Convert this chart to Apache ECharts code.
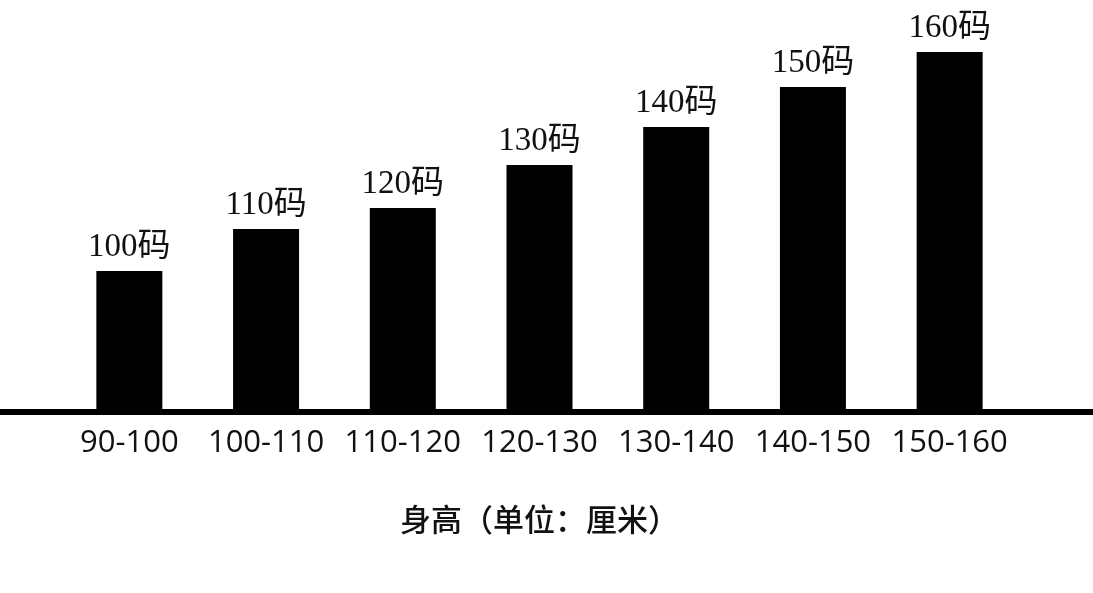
<!DOCTYPE html>
<html>
<head>
<meta charset="utf-8">
<script src="https://cdn.jsdelivr.net/npm/echarts@6/dist/echarts.min.js"></script>
<style>html,body{margin:0;padding:0;background:#fff}#c{width:1093px;height:593px}</style>
</head>
<body>
<div id="c"></div>
<script>
const categories = ["90-100","100-110","110-120","120-130","130-140","140-150","150-160"];
const sizeLabels = ["100码","110码","120码","130码","140码","150码","160码"];
const barValues = [141, 183, 204, 247, 285, 325, 360];
const axisName = "身高（单位：厘米）";

const chart = echarts.init(document.getElementById('c'), null, {renderer:'canvas'});
chart.setOption({
  backgroundColor: '#ffffff',
  animation: false,
  grid: [
    {left: 61, right: 75, top: 12, bottom: 181, containLabel: false},
    {left: 0, right: 0, top: 12, bottom: 181, containLabel: false}
  ],
  xAxis: [
    {
      type: 'category', gridIndex: 0, data: categories,
      axisLine: {show: false}, axisTick: {show: false},
      axisLabel: {color: '#111', fontSize: 31, fontFamily: 'Open Sans, sans-serif', margin: 16, interval: 0},
      name: axisName, nameLocation: 'middle', nameGap: 92,
      nameTextStyle: {color: '#111', fontSize: 31, fontFamily: 'Noto Sans CJK SC', fontWeight: 500}
    },
    {
      type: 'category', gridIndex: 1, data: [''],
      axisLine: {show: true, lineStyle: {color: '#000', width: 6}},
      axisTick: {show: false}, axisLabel: {show: false}
    }
  ],
  yAxis: [
    {type: 'value', gridIndex: 0, min: 0, max: 400, show: false},
    {type: 'value', gridIndex: 1, min: 0, max: 400, show: false}
  ],
  series: [{
    type: 'bar', xAxisIndex: 0, yAxisIndex: 0,
    data: barValues, barWidth: 66,
    itemStyle: {color: '#000'},
    label: {
      show: true, position: 'top', distance: 7,
      formatter: p => sizeLabels[p.dataIndex],
      color: '#111', fontSize: 33,
      fontFamily: 'Liberation Serif, Noto Sans CJK SC, serif'
    }
  }]
});
</script>
</body>
</html>
